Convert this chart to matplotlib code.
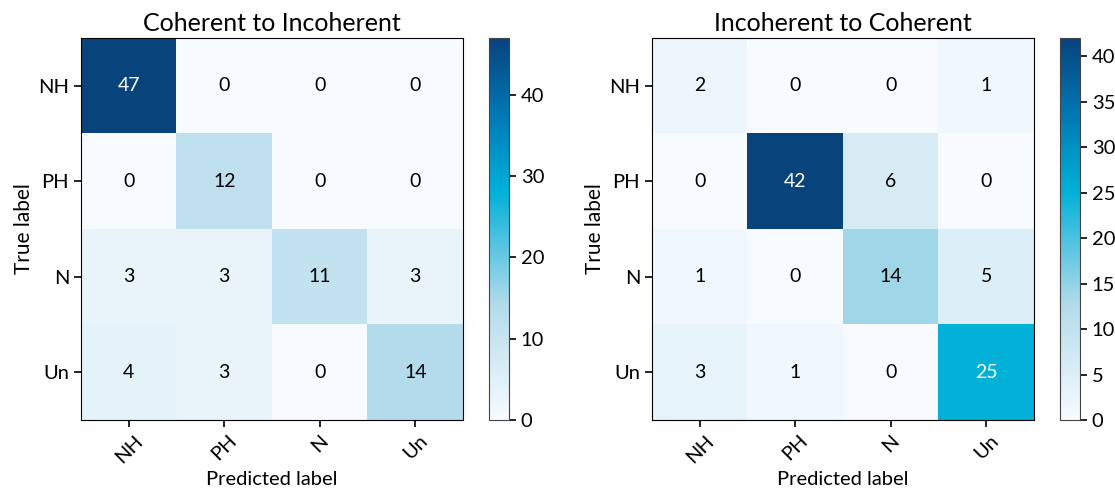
import numpy as np
import matplotlib
matplotlib.use("Agg")
import matplotlib.pyplot as plt
from matplotlib.colors import LinearSegmentedColormap

plt.rcParams['font.family'] = ['Lato', 'DejaVu Sans']

classes = ["NH", "PH", "N", "Un"]
titles = ["Coherent to Incoherent", "Incoherent to Coherent"]
cm_coh_to_incoh = np.array([
    [47, 0, 0, 0],
    [0, 12, 0, 0],
    [3, 3, 11, 3],
    [4, 3, 0, 14],
])
cm_incoh_to_coh = np.array([
    [2, 0, 0, 1],
    [0, 42, 6, 0],
    [1, 0, 14, 5],
    [3, 1, 0, 25],
])
cbar_ticks = [[0, 10, 20, 30, 40], [0, 5, 10, 15, 20, 25, 30, 35, 40]]

cmap = LinearSegmentedColormap.from_list(
    "blue_cyan",
    [(0.0, "#f7fbff"), (0.3, "#b3dbeb"), (0.6, "#00b0d8"),
     (0.8, "#0079b6"), (1.0, "#08437c")],
)

fig = plt.figure(figsize=(11.15, 4.92), dpi=100)
W, H = 1115, 492
boxes = [
    ((81, 420, 382, 382), (489, 420, 20, 382)),
    ((652, 420, 382, 382), (1060, 420, 20, 382)),
]

for cm, title, ticks, (ab, cb) in zip(
        [cm_coh_to_incoh, cm_incoh_to_coh], titles, cbar_ticks, boxes):
    ax = fig.add_axes([ab[0] / W, (H - ab[1]) / H, ab[2] / W, ab[3] / H])
    cax = fig.add_axes([cb[0] / W, (H - cb[1]) / H, cb[2] / W, cb[3] / H])
    im = ax.imshow(cm, interpolation="nearest", cmap=cmap, aspect="auto")
    ax.set_title(title, fontsize=18, pad=5)
    cbar = fig.colorbar(im, cax=cax, ticks=ticks)
    cbar.ax.tick_params(labelsize=14.5, length=5, width=1.2)
    cbar.outline.set_edgecolor("#444444")
    ax.set_xticks(np.arange(len(classes)))
    ax.set_yticks(np.arange(len(classes)))
    ax.set_xticklabels(classes, rotation=45, fontsize=14.5)
    ax.set_yticklabels(classes, fontsize=14.5)
    ax.tick_params(length=5, width=1.2)
    thresh = cm.max() / 2.0
    for i in range(cm.shape[0]):
        for j in range(cm.shape[1]):
            ax.text(j, i, str(cm[i, j]), ha="center", va="center", fontsize=14,
                    color="white" if cm[i, j] > thresh else "black")
    ax.set_ylabel("True label", fontsize=15, labelpad=3)
    ax.set_xlabel("Predicted label", fontsize=14.5)

fig.savefig("out.png", dpi=100)
